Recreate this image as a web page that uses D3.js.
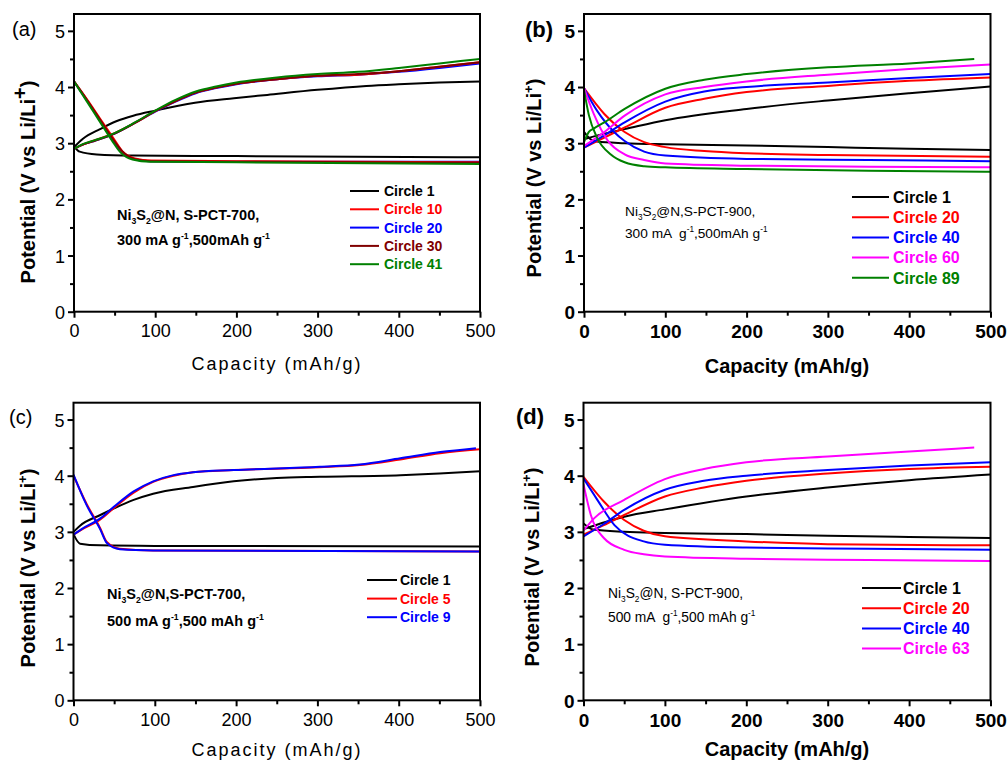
<!DOCTYPE html>
<html><head><meta charset="utf-8">
<script src="https://cdn.jsdelivr.net/npm/d3@7"></script>
<style>
body{margin:0;background:#fff;}
svg{display:block;font-family:"Liberation Sans",Arial,sans-serif;}
</style></head><body>
<svg id="chart" width="1008" height="762"></svg>
<script>
// ---------- DATA ----------
const xTicks = [0,100,200,300,400,500];
const xMinor = [50,150,250,350,450];
const yTicks = [0,1,2,3,4,5];
const yMinor = [0.5,1.5,2.5,3.5,4.5];

// Panel (a)
const aLegend = ["Circle 1","Circle 10","Circle 20","Circle 30","Circle 41"];
const a_c1_ch = [[0,2.93],[11,3.08],[32,3.25],[52,3.39],[73,3.49],[100,3.58],[149,3.72],[197,3.8],[238,3.86],[300,3.95],[360,4.02],[400,4.05],[450,4.08],[500,4.1]];
const a_c1_dis = [[0,2.95],[7,2.85],[28,2.8],[73,2.78],[200,2.77],[500,2.75]];
const a_c10_ch = [[0,2.9],[10,2.97],[25,3.05],[50,3.18],[75,3.36],[100,3.57],[125,3.75],[150,3.9],[175,3.99],[200,4.06],[250,4.14],[300,4.2],[350,4.22],[400,4.28],[450,4.36],[500,4.44]];
const a_c10_dis = [[0,4.1],[16,3.78],[32,3.44],[48,3.1],[60,2.85],[75,2.73],[95,2.69],[200,2.68],[500,2.66]];
const a_c20_ch = [[0,2.9],[10,2.97],[25,3.04],[50,3.17],[75,3.36],[100,3.56],[125,3.74],[150,3.89],[175,3.98],[200,4.05],[250,4.14],[300,4.19],[350,4.22],[400,4.27],[450,4.34],[500,4.42]];
const a_c20_dis = [[0,4.1],[16,3.76],[32,3.41],[48,3.06],[58,2.86],[73,2.72],[94,2.68],[200,2.67],[500,2.67]];
const a_c30_ch = [[0,2.9],[10,2.97],[25,3.04],[50,3.17],[75,3.36],[100,3.57],[125,3.75],[150,3.9],[175,3.99],[200,4.06],[250,4.14],[300,4.2],[350,4.23],[400,4.28],[450,4.36],[500,4.44]];
const a_c30_dis = [[0,4.1],[16,3.77],[32,3.42],[48,3.07],[59,2.86],[74,2.72],[94,2.68],[200,2.67],[500,2.65]];
const a_c41_ch = [[0,2.9],[10,2.98],[25,3.05],[50,3.18],[75,3.37],[100,3.58],[125,3.77],[150,3.92],[175,4.01],[200,4.08],[250,4.17],[300,4.23],[350,4.27],[400,4.34],[450,4.42],[500,4.5]];
const a_c41_dis = [[0,4.1],[16,3.74],[32,3.38],[48,3.02],[57,2.84],[72,2.71],[94,2.67],[200,2.66],[500,2.63]];

// Panel (b)
const bLegend = ["Circle 1","Circle 20","Circle 40","Circle 60","Circle 89"];
const b_c1_ch = [[0,3.07],[25,3.17],[50,3.25],[100,3.41],[200,3.61],[300,3.76],[400,3.89],[500,4.01]];
const b_c1_dis = [[0,3.2],[8,3.07],[16,3.03],[50,3.0],[100,2.98],[200,2.96],[300,2.93],[400,2.9],[500,2.88]];
const b_c20_ch = [[0,2.92],[25,3.1],[50,3.28],[100,3.63],[148,3.79],[200,3.91],[300,4.02],[400,4.11],[500,4.17]];
const b_c20_dis = [[0,3.98],[25,3.52],[50,3.2],[74,3.02],[100,2.93],[148,2.86],[200,2.82],[300,2.79],[500,2.76]];
const b_c40_ch = [[0,2.92],[25,3.14],[50,3.37],[100,3.74],[148,3.92],[200,4.0],[300,4.08],[400,4.16],[500,4.23]];
const b_c40_dis = [[0,3.98],[16,3.58],[37,3.2],[50,3.04],[74,2.85],[100,2.78],[200,2.72],[350,2.7],[500,2.68]];
const b_c60_ch = [[0,2.95],[25,3.2],[50,3.49],[100,3.87],[148,4.0],[200,4.1],[300,4.22],[400,4.32],[500,4.4]];
const b_c60_dis = [[0,3.98],[12,3.52],[29,3.05],[50,2.8],[74,2.7],[100,2.64],[200,2.6],[350,2.58],[500,2.57]];
const b_c89_ch = [[0,3.02],[6,3.2],[12,3.26],[25,3.37],[50,3.61],[100,3.97],[148,4.13],[200,4.23],[300,4.35],[400,4.42],[480,4.5]];
const b_c89_dis = [[0,3.95],[6,3.5],[16,3.1],[33,2.8],[50,2.66],[74,2.59],[100,2.57],[200,2.54],[350,2.51],[500,2.49]];

// Panel (c)
const cLegend = ["Circle 1","Circle 5","Circle 9"];
const c_c1_ch = [[0,3.0],[8,3.11],[33,3.3],[50,3.42],[74,3.57],[98,3.68],[147,3.8],[197,3.9],[250,3.96],[303,3.98],[402,4.01],[450,4.04],[500,4.08]];
const c_c1_dis = [[0,2.96],[8,2.79],[33,2.76],[100,2.75],[500,2.74]];
const c_c5_ch = [[0,2.95],[10,3.04],[33,3.22],[50,3.43],[74,3.7],[98,3.89],[123,4.0],[147,4.06],[197,4.1],[303,4.15],[352,4.19],[402,4.29],[451,4.4],[500,4.47]];
const c_c5_dis = [[0,4.0],[16,3.5],[33,3.06],[41,2.82],[57,2.7],[98,2.67],[500,2.65]];
const c_c9_ch = [[0,2.95],[10,3.05],[33,3.24],[50,3.45],[74,3.72],[98,3.9],[123,4.01],[147,4.06],[197,4.1],[303,4.16],[352,4.2],[402,4.31],[451,4.42],[495,4.49]];
const c_c9_dis = [[0,4.02],[16,3.48],[33,3.04],[41,2.8],[57,2.69],[98,2.67],[500,2.65]];

// Panel (d)
const dLegend = ["Circle 1","Circle 20","Circle 40","Circle 63"];
const d_c1_ch = [[0,3.05],[50,3.27],[100,3.4],[200,3.63],[300,3.79],[400,3.92],[500,4.02]];
const d_c1_dis = [[0,3.15],[12,3.04],[50,3.0],[100,2.98],[200,2.96],[300,2.93],[400,2.91],[500,2.89]];
const d_c20_ch = [[0,2.95],[25,3.12],[50,3.3],[100,3.63],[148,3.79],[200,3.91],[300,4.04],[400,4.12],[500,4.16]];
const d_c20_dis = [[0,3.98],[25,3.54],[50,3.21],[74,3.02],[100,2.92],[200,2.83],[300,2.78],[500,2.76]];
const d_c40_ch = [[0,2.92],[25,3.14],[50,3.39],[100,3.75],[148,3.91],[200,4.0],[300,4.1],[400,4.18],[500,4.24]];
const d_c40_dis = [[0,3.95],[17,3.57],[38,3.12],[74,2.83],[100,2.77],[200,2.72],[350,2.7],[500,2.68]];
const d_c63_ch = [[0,3.02],[13,3.24],[50,3.57],[100,3.94],[148,4.12],[200,4.24],[300,4.34],[400,4.43],[480,4.5]];
const d_c63_dis = [[0,3.85],[9,3.3],[25,2.89],[50,2.68],[74,2.6],[100,2.56],[200,2.52],[350,2.5],[500,2.48]];

// ---------- STYLE / LAYOUT ----------
const COL = {black:"#000000", red:"#ff0000", blue:"#0000ff", dred:"#800000", green:"#008000", mag:"#ff00ff"};

const panels = [
  { id:"(a)", idX:12, idY:36, idBold:false,
    x0:74, x1:480, yb:311.7, yt:14,
    tickBold:false, tickSize:18,
    xlab:{x:277, y:370, size:18, bold:false, ls:2},
    ylab:{x:28, y:182, bold:true, size:20, bigPlus:true},
    ann:{x:117, y1:220, y2:245, bold:true, size:14.5, sep:", S-PCT-700,", l2a:"300 mA g", l2b:",500mAh g"},
    leg:{x0:350, x1:379, tx:384, y:191, dy:18.3, size:14},
    legend:aLegend,
    series:[[a_c1_ch,a_c1_dis,COL.black],[a_c10_ch,a_c10_dis,COL.red],[a_c20_ch,a_c20_dis,COL.blue],[a_c30_ch,a_c30_dis,COL.dred],[a_c41_ch,a_c41_dis,COL.green]],
    drawOrder:[0,2,1,3,4]
  },
  { id:"(b)", idX:525, idY:37, idBold:true,
    x0:584, x1:990.5, yb:311.7, yt:14,
    tickBold:true, tickSize:19,
    xlab:{x:787, y:373, size:20, bold:true, ls:0},
    ylab:{x:534, y:178, bold:true, size:20, bigPlus:false},
    ann:{x:625, y1:216, y2:238, bold:false, size:13.7, sep:",S-PCT-900,", l2a:"300 mA  g", l2b:",500mAh g"},
    leg:{x0:852, x1:889, tx:893, y:197, dy:20.2, size:16},
    legend:bLegend,
    series:[[b_c1_ch,b_c1_dis,COL.black],[b_c20_ch,b_c20_dis,COL.red],[b_c40_ch,b_c40_dis,COL.blue],[b_c60_ch,b_c60_dis,COL.mag],[b_c89_ch,b_c89_dis,COL.green]],
    drawOrder:[0,1,2,3,4]
  },
  { id:"(c)", idX:9, idY:424, idBold:false,
    x0:73.5, x1:480, yb:700.3, yt:402.7,
    tickBold:false, tickSize:18,
    xlab:{x:277, y:756, size:18, bold:false, ls:2},
    ylab:{x:28, y:568, bold:true, size:20, bigPlus:false},
    ann:{x:107, y1:599, y2:626, bold:true, size:14.5, sep:",S-PCT-700,", l2a:"500 mA g", l2b:",500 mAh g"},
    leg:{x0:367, x1:397, tx:400, y:580, dy:18.6, size:14},
    legend:cLegend,
    series:[[c_c1_ch,c_c1_dis,COL.black],[c_c5_ch,c_c5_dis,COL.red],[c_c9_ch,c_c9_dis,COL.blue]],
    drawOrder:[0,1,2]
  },
  { id:"(d)", idX:516, idY:424, idBold:true,
    x0:583.5, x1:990.5, yb:700.3, yt:402.7,
    tickBold:true, tickSize:19,
    xlab:{x:787, y:756, size:20, bold:true, ls:0},
    ylab:{x:532, y:567, bold:true, size:20, bigPlus:false},
    ann:{x:608, y1:598, y2:622, bold:false, size:13.8, sep:", S-PCT-900,", l2a:"500 mA  g", l2b:",500 mAh g"},
    leg:{x0:862, x1:901, tx:903, y:588, dy:20.2, size:16},
    legend:dLegend,
    series:[[d_c1_ch,d_c1_dis,COL.black],[d_c20_ch,d_c20_dis,COL.red],[d_c40_ch,d_c40_dis,COL.blue],[d_c63_ch,d_c63_dis,COL.mag]],
    drawOrder:[0,1,2,3]
  }
];

const svg = d3.select("#chart");

panels.forEach(p => {
  const g = svg.append("g");
  const x = d3.scaleLinear().domain([0,500]).range([p.x0,p.x1]);
  const y = d3.scaleLinear().domain([0,5.3]).range([p.yb,p.yt]);
  const fw = p.tickBold ? "bold" : "normal";

  const cid = "clip" + p.id.replace(/[()]/g,"");
  svg.append("clipPath").attr("id",cid).append("rect")
    .attr("x",p.x0).attr("y",p.yt).attr("width",p.x1-p.x0).attr("height",p.yb-p.yt);

  const line = d3.line().x(d=>x(d[0])).y(d=>y(d[1])).curve(d3.curveMonotoneX);
  const cg = g.append("g").attr("clip-path",`url(#${cid})`);
  p.drawOrder.forEach(i => {
    const s = p.series[i];
    [s[0], s[1]].forEach(arr => {
      cg.append("path").attr("d", line(arr)).attr("fill","none")
        .attr("stroke", s[2]).attr("stroke-width",2).attr("stroke-linejoin","round");
    });
  });

  g.append("rect").attr("x",p.x0).attr("y",p.yt).attr("width",p.x1-p.x0).attr("height",p.yb-p.yt)
    .attr("fill","none").attr("stroke","#000").attr("stroke-width",2);

  const xa = g.append("g").attr("transform",`translate(0,${p.yb})`)
    .call(d3.axisBottom(x).tickValues(xTicks).tickSize(6).tickSizeOuter(0).tickPadding(7).tickFormat(d3.format("d")));
  const xm = g.append("g").attr("transform",`translate(0,${p.yb})`)
    .call(d3.axisBottom(x).tickValues(xMinor).tickSize(4).tickSizeOuter(0).tickFormat(""));
  const ya = g.append("g").attr("transform",`translate(${p.x0},0)`)
    .call(d3.axisLeft(y).tickValues(yTicks).tickSize(6).tickSizeOuter(0).tickPadding(3).tickFormat(d3.format("d")));
  const ym = g.append("g").attr("transform",`translate(${p.x0},0)`)
    .call(d3.axisLeft(y).tickValues(yMinor).tickSize(4).tickSizeOuter(0).tickFormat(""));
  [xa,xm,ya,ym].forEach(a => {
    a.select(".domain").remove();
    a.selectAll("line").attr("stroke","#000").attr("stroke-width",2);
    a.selectAll("text").attr("font-size",p.tickSize).attr("font-weight",fw)
      .attr("fill","#000").attr("font-family",'"Liberation Sans",Arial,sans-serif');
  });
  ya.selectAll("text").attr("dy","0.36em");

  g.append("text").attr("x",p.idX).attr("y",p.idY).text(p.id)
    .attr("font-size",p.idBold?22:20).attr("font-weight",p.idBold?"bold":"normal");

  g.append("text").attr("x",p.xlab.x).attr("y",p.xlab.y).attr("text-anchor","middle")
    .attr("font-size",p.xlab.size).attr("font-weight",p.xlab.bold?"bold":"normal")
    .attr("letter-spacing",p.xlab.ls).text("Capacity (mAh/g)");

  const yl = g.append("text").attr("transform",`translate(${p.ylab.x},${p.ylab.y}) rotate(-90)`)
    .attr("text-anchor","middle").attr("dy","0.35em")
    .attr("font-size",p.ylab.size).attr("font-weight","bold");
  yl.append("tspan").text("Potential (V vs Li/Li");
  yl.append("tspan").text("+").attr("dy",-8).attr("font-size",p.ylab.bigPlus?20:13);
  yl.append("tspan").text(")").attr("dy",8);

  const afw = p.ann.bold ? "bold" : "normal";
  const t1 = g.append("text").attr("x",p.ann.x).attr("y",p.ann.y1).attr("font-size",p.ann.size).attr("font-weight",afw);
  t1.append("tspan").text("Ni");
  t1.append("tspan").text("3").attr("font-size",p.ann.size*0.6).attr("dy",4);
  t1.append("tspan").text("S").attr("dy",-4);
  t1.append("tspan").text("2").attr("font-size",p.ann.size*0.6).attr("dy",4);
  t1.append("tspan").text("@N" + p.ann.sep).attr("dy",-4);
  const t2 = g.append("text").attr("x",p.ann.x).attr("y",p.ann.y2).attr("font-size",p.ann.size).attr("font-weight",afw)
    .attr("xml:space","preserve").style("white-space","pre");
  t2.append("tspan").text(p.ann.l2a);
  t2.append("tspan").text("-1").attr("font-size",p.ann.size*0.6).attr("dy",-6);
  t2.append("tspan").text(p.ann.l2b).attr("dy",6);
  t2.append("tspan").text("-1").attr("font-size",p.ann.size*0.6).attr("dy",-6);

  p.legend.forEach((name,i) => {
    const col = p.series[i][2];
    const yy = p.leg.y + i*p.leg.dy;
    g.append("line").attr("x1",p.leg.x0).attr("x2",p.leg.x1).attr("y1",yy).attr("y2",yy)
      .attr("stroke",col).attr("stroke-width",2);
    g.append("text").attr("x",p.leg.tx).attr("y",yy).attr("dy","0.36em")
      .attr("font-size",p.leg.size).attr("font-weight","bold").attr("fill",col).text(name);
  });
});
</script>
</body></html>
